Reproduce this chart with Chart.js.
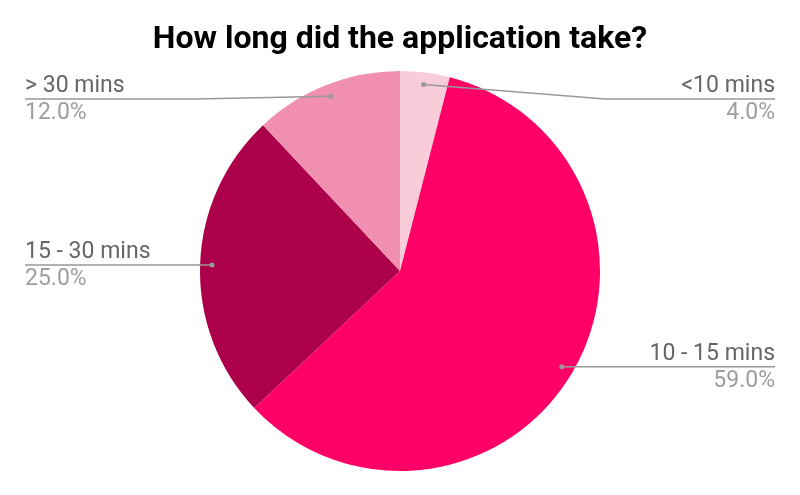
<!DOCTYPE html>
<html>
<head>
<meta charset="utf-8">
<script src="https://cdn.jsdelivr.net/npm/chart.js@4.4.1/dist/chart.umd.min.js"></script>
<style>
  html, body { margin: 0; padding: 0; background: #fff; }
  #wrap { width: 800px; height: 495px; }
</style>
</head>
<body>
<div id="wrap"><canvas id="myChart"></canvas></div>
<script>
// Data
const categories = ['<10 mins', '10 - 15 mins', '15 - 30 mins', '> 30 mins'];
const shares = [4, 59, 25, 12];
const sliceColors = ['#F9CCDA', '#FF0066', '#AD004A', '#F08FB0'];

// Leader lines + labels (Google-Sheets style)
const leaderLabels = {
  id: 'leaderLabels',
  afterDatasetsDraw(chart) {
    const ctx = chart.ctx;
    const meta = chart.getDatasetMeta(0);
    const area = chart.chartArea;
    const total = shares.reduce((a, b) => a + b, 0);
    const leftX = 25, rightX = 775, flat = 170;
    ctx.save();
    meta.data.forEach((arc, i) => {
      const mid = (arc.startAngle + arc.endAngle) / 2;
      const r = arc.outerRadius * 0.94;
      const dx = arc.x + Math.cos(mid) * r;
      const dy = arc.y + Math.sin(mid) * r;
      const right = Math.cos(mid) >= 0;
      const lineY = Math.max(dy, area.top + 28);
      const edgeX = right ? rightX : leftX;
      const elbowX = right ? Math.max(edgeX - flat, dx) : Math.min(edgeX + flat, dx);

      ctx.strokeStyle = '#999';
      ctx.lineWidth = 1.5;
      ctx.beginPath();
      ctx.moveTo(dx, dy);
      ctx.lineTo(elbowX, lineY);
      ctx.lineTo(edgeX, lineY);
      ctx.stroke();

      ctx.fillStyle = '#999';
      ctx.beginPath();
      ctx.arc(dx, dy, 2.5, 0, Math.PI * 2);
      ctx.fill();

      ctx.textAlign = right ? 'right' : 'left';
      ctx.font = '23px Roboto';
      ctx.textBaseline = 'alphabetic';
      ctx.fillStyle = '#666';
      ctx.fillText(categories[i], edgeX, lineY - 7);
      ctx.fillStyle = '#9e9e9e';
      ctx.fillText((shares[i] / total * 100).toFixed(1) + '%', edgeX, lineY + 20);
    });
    ctx.restore();
  }
};

const ctx = document.getElementById('myChart').getContext('2d');
const myChart = new Chart(ctx, {
  type: 'pie',
  data: {
    labels: categories,
    datasets: [{
      data: shares,
      backgroundColor: sliceColors,
      borderWidth: 0
    }]
  },
  options: {
    responsive: true,
    maintainAspectRatio: false,
    animation: false,
    layout: { padding: { top: 0, bottom: 24, left: 0, right: 0 } },
    plugins: {
      legend: { display: false },
      tooltip: { enabled: false },
      title: {
        display: true,
        text: 'How long did the application take?',
        color: '#000',
        font: { family: 'Roboto', size: 32, weight: 'bold' },
        padding: { top: 20.8, bottom: 11.8 }
      }
    }
  },
  plugins: [leaderLabels]
});
</script>
</body>
</html>
